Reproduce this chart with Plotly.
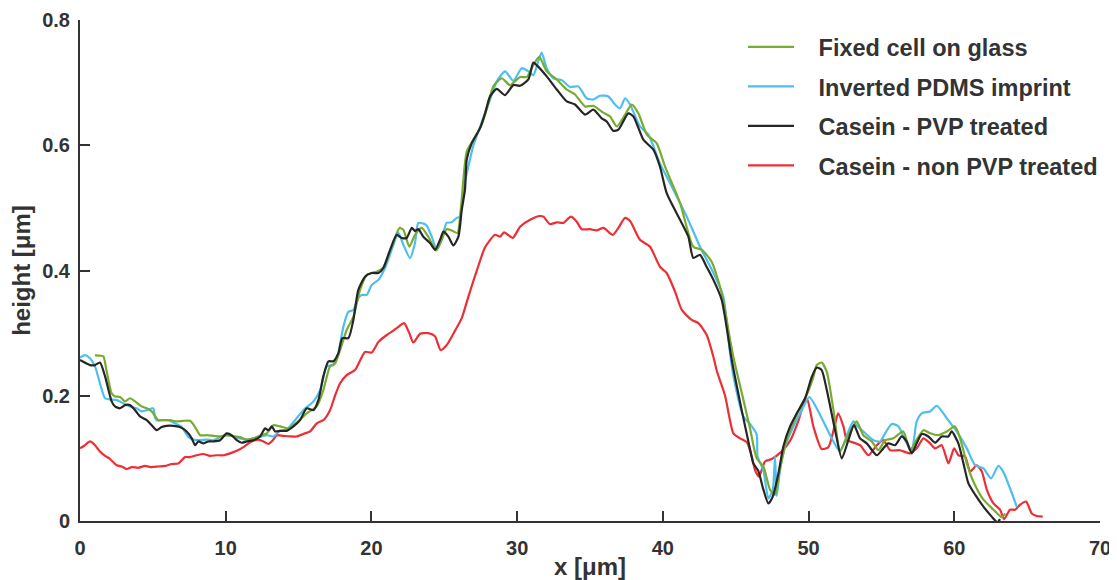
import plotly.graph_objects as go

# ---- data (x [um], height [um]) ----
fixed_cell_glass = [
    (1.03,0.265),(1.37,0.264),(1.6,0.263),(1.83,0.239),(2.17,0.204),(2.4,0.199),(2.75,0.198),(3.09,0.191),
    (3.43,0.196),(3.78,0.191),(4.23,0.183),(4.58,0.180),(4.92,0.175),(5.38,0.161),(5.72,0.161),(6.18,0.161),
    (6.64,0.159),(7.09,0.160),(7.55,0.160),(7.9,0.150),(8.24,0.137),(8.7,0.137),(9.15,0.136),(9.61,0.135),
    (10.07,0.137),(10.53,0.135),(10.98,0.134),(11.44,0.130),(11.9,0.132),(12.47,0.137),(12.81,0.140),
    (13.27,0.153),(13.73,0.151),(14.3,0.148),(14.87,0.157),(15.56,0.172),(16.25,0.183),(16.7,0.209),
    (17.16,0.247),(17.51,0.252),(17.85,0.273),(18.3,0.305),(18.76,0.326),(19.22,0.369),(19.68,0.393),
    (20.36,0.398),(20.82,0.405),(21.39,0.438),(21.92,0.468),(22.19,0.465),(22.6,0.438),(22.99,0.457),
    (23.45,0.468),(23.9,0.454),(24.43,0.432),(24.82,0.449),(25.16,0.466),(25.51,0.464),(25.9,0.46),
    (26.13,0.497),(26.54,0.590),(27.0,0.609),(27.57,0.633),(28.03,0.667),(28.37,0.694),(28.94,0.707),
    (29.51,0.696),(30.2,0.709),(30.66,0.709),(31.11,0.728),(31.52,0.741),(32.03,0.718),(32.72,0.705),
    (33.4,0.689),(33.97,0.681),(34.66,0.662),(35.23,0.663),(35.92,0.652),(36.38,0.646),(36.84,0.630),
    (37.41,0.649),(37.86,0.665),(38.32,0.651),(38.9,0.617),(39.58,0.603),(40.15,0.566),(41.18,0.508),
    (42.09,0.438),(42.67,0.433),(43.35,0.414),(44.04,0.364),(44.61,0.29),(44.84,0.262),(45.41,0.205),
    (45.98,0.148),(46.44,0.100),(46.9,0.087),(47.36,0.050),(47.7,0.042),(48.04,0.084),(48.5,0.13),
    (49.19,0.170),(49.87,0.201),(50.33,0.230),(50.56,0.249),(50.9,0.253),(51.25,0.238),(51.71,0.177),
    (52.16,0.113),(52.73,0.138),(53.3,0.159),(53.76,0.137),(54.34,0.127),(54.79,0.113),(55.25,0.129),
    (55.82,0.132),(56.5,0.143),(56.96,0.113),(57.42,0.130),(57.88,0.145),(58.34,0.140),(58.91,0.137),
    (59.49,0.143),(60.05,0.151),(60.4,0.132),(60.86,0.092),(61.31,0.063),(62.0,0.034),(62.69,0.018),
    (63.26,0.006),(63.49,0.012),
]

inverted_pdms = [
    (0,0.261),(0.34,0.265),(0.69,0.26),(1.03,0.247),(1.37,0.220),(1.72,0.196),(2.06,0.194),(2.52,0.193),
    (2.97,0.188),(3.43,0.183),(3.89,0.180),(4.23,0.175),(4.58,0.177),(5.03,0.180),(5.15,0.165),(5.26,0.161),
    (5.6,0.161),(6.06,0.161),(6.52,0.156),(6.98,0.150),(7.44,0.134),(7.78,0.130),(8.24,0.129),(8.7,0.130),
    (9.15,0.129),(9.61,0.134),(10.07,0.137),(10.53,0.135),(10.98,0.132),(11.44,0.130),(11.9,0.132),
    (12.47,0.135),(12.81,0.137),(13.27,0.135),(13.73,0.144),(14.19,0.146),(14.76,0.161),(15.33,0.177),
    (16.02,0.191),(16.48,0.209),(16.93,0.247),(17.39,0.249),(17.73,0.268),(18.07,0.310),(18.42,0.334),
    (18.76,0.337),(19.1,0.356),(19.33,0.361),(19.68,0.361),(20.02,0.377),(20.48,0.385),(20.93,0.404),
    (21.39,0.433),(21.85,0.46),(22.19,0.441),(22.65,0.420),(22.99,0.444),(23.22,0.476),(23.75,0.473),
    (24.14,0.454),(24.48,0.433),(24.82,0.449),(25.16,0.476),(25.51,0.477),(25.85,0.484),(26.08,0.486),
    (26.31,0.529),(26.65,0.566),(27.0,0.600),(27.57,0.637),(28.14,0.673),(28.6,0.702),(29.17,0.718),
    (29.74,0.703),(30.31,0.723),(30.77,0.718),(31.11,0.712),(31.45,0.734),(31.68,0.748),(32.03,0.723),
    (32.49,0.707),(33.06,0.704),(33.63,0.693),(34.2,0.694),(34.77,0.675),(35.23,0.673),(35.69,0.679),
    (36.26,0.678),(36.72,0.665),(37.06,0.659),(37.41,0.675),(37.75,0.665),(38.43,0.630),(39.01,0.617),
    (39.8,0.571),(40.72,0.529),(41.64,0.486),(42.55,0.438),(43.47,0.396),(44.15,0.358),(44.61,0.268),
    (44.84,0.232),(45.53,0.167),(45.98,0.155),(46.44,0.138),(46.5,0.103),(46.9,0.081),(47.24,0.036),
    (47.54,0.050),(47.7,0.103),(47.81,0.040),(48.04,0.081),(48.39,0.119),(48.96,0.151),(49.53,0.177),
    (50.05,0.198),(50.56,0.180),(51.48,0.137),(52.16,0.111),(52.73,0.143),(53.08,0.159),(53.3,0.153),
    (53.76,0.143),(54.45,0.129),(54.91,0.127),(55.25,0.140),(55.71,0.155),(56.17,0.151),(56.62,0.129),
    (57.08,0.113),(57.42,0.159),(57.77,0.172),(58.34,0.175),(58.8,0.184),(59.49,0.164),(60.17,0.143),
    (60.86,0.116),(61.43,0.089),(62.0,0.084),(62.52,0.068),(63.03,0.088),(63.37,0.078),(64.29,0.023),
]

casein_pvp = [
    (0,0.257),(0.69,0.249),(1.03,0.249),(1.37,0.253),(1.72,0.231),(2.17,0.191),(2.4,0.183),(2.75,0.18),
    (3.09,0.185),(3.43,0.185),(3.78,0.177),(4.12,0.167),(4.58,0.161),(4.92,0.153),(5.26,0.145),(5.6,0.150),
    (5.95,0.152),(6.4,0.152),(6.86,0.150),(7.32,0.143),(7.67,0.132),(7.9,0.121),(8.12,0.127),(8.47,0.124),
    (8.81,0.127),(9.15,0.127),(9.61,0.129),(10.07,0.140),(10.41,0.137),(10.76,0.129),(11.1,0.125),
    (11.44,0.127),(11.9,0.129),(12.36,0.135),(12.7,0.148),(12.93,0.145),(13.16,0.151),(13.39,0.143),
    (13.73,0.144),(14.19,0.144),(14.65,0.151),(15.1,0.161),(15.56,0.180),(16.02,0.177),(16.36,0.193),
    (16.7,0.231),(17.05,0.255),(17.39,0.255),(17.73,0.268),(18.0,0.292),(18.42,0.292),(18.76,0.321),
    (19.1,0.369),(19.56,0.390),(20.02,0.396),(20.48,0.396),(20.82,0.404),(21.28,0.433),(21.74,0.457),
    (22.08,0.452),(22.42,0.452),(22.77,0.468),(23.0,0.463),(23.22,0.466),(23.56,0.454),(24.02,0.444),
    (24.37,0.433),(24.71,0.449),(24.94,0.462),(25.28,0.454),(25.62,0.440),(25.97,0.454),(26.2,0.497),
    (26.42,0.529),(26.54,0.577),(26.88,0.603),(27.45,0.627),(27.8,0.651),(28.14,0.678),(28.6,0.690),
    (29.17,0.680),(29.74,0.696),(30.2,0.695),(30.77,0.705),(31.11,0.732),(31.34,0.728),(32.03,0.710),
    (32.72,0.689),(33.4,0.670),(33.97,0.665),(34.66,0.649),(35.23,0.657),(35.8,0.643),(36.15,0.638),
    (36.6,0.623),(36.95,0.625),(37.63,0.651),(37.98,0.646),(38.66,0.609),(39.35,0.593),(39.8,0.566),
    (40.27,0.523),(41.18,0.481),(41.75,0.454),(42.09,0.420),(42.55,0.425),(43.0,0.406),(43.47,0.385),
    (44.04,0.353),(44.73,0.257),(45.41,0.177),(45.98,0.115),(46.21,0.092),(46.55,0.080),(46.9,0.050),
    (47.24,0.028),(47.54,0.039),(47.93,0.076),(48.27,0.119),(48.73,0.151),(49.19,0.172),(49.76,0.196),
    (50.22,0.230),(50.56,0.245),(50.9,0.241),(51.25,0.209),(51.82,0.145),(52.28,0.100),(52.73,0.129),
    (53.12,0.153),(53.53,0.132),(53.99,0.124),(54.68,0.105),(55.13,0.116),(55.48,0.124),(55.94,0.121),
    (56.39,0.135),(56.73,0.127),(57.08,0.108),(57.42,0.124),(57.77,0.139),(58.22,0.135),(58.68,0.125),
    (59.14,0.135),(59.6,0.135),(59.82,0.143),(60.28,0.124),(60.63,0.092),(60.97,0.060),(61.43,0.042),
    (62.0,0.023),(62.57,0.007),(62.96,-0.002),(63.14,0.003),
]

casein_non_pvp = [
    (0,0.116),(0.34,0.121),(0.69,0.127),(1.03,0.121),(1.37,0.111),(1.72,0.104),(2.06,0.099),(2.52,0.089),
    (2.86,0.087),(3.2,0.083),(3.55,0.086),(4.0,0.085),(4.46,0.088),(4.92,0.086),(5.38,0.087),(5.84,0.088),
    (6.29,0.091),(6.75,0.092),(7.21,0.102),(7.55,0.102),(8.0,0.105),(8.47,0.107),(8.92,0.104),(9.38,0.105),
    (9.84,0.105),(10.3,0.108),(10.76,0.112),(11.21,0.118),(11.56,0.124),(11.9,0.128),(12.24,0.130),
    (12.59,0.127),(12.93,0.123),(13.27,0.130),(13.5,0.137),(13.96,0.136),(14.42,0.135),(14.87,0.135),
    (15.33,0.139),(15.79,0.143),(16.25,0.156),(16.7,0.161),(17.16,0.177),(17.5,0.200),(17.85,0.220),
    (18.3,0.233),(18.87,0.241),(19.56,0.270),(20.02,0.269),(20.48,0.286),(21.05,0.297),(21.74,0.308),
    (22.24,0.316),(22.6,0.300),(22.88,0.285),(23.34,0.299),(23.9,0.300),(24.36,0.295),(24.75,0.273),
    (25.17,0.281),(25.74,0.304),(26.2,0.324),(26.65,0.358),(27.22,0.399),(27.8,0.437),(28.48,0.457),
    (28.83,0.454),(29.1,0.461),(29.7,0.452),(30.2,0.470),(30.89,0.481),(31.57,0.487),(31.8,0.486),
    (32.26,0.474),(32.72,0.477),(33.17,0.476),(33.68,0.486),(34.09,0.478),(34.43,0.466),(35.0,0.466),
    (35.46,0.464),(35.92,0.468),(36.56,0.457),(36.95,0.468),(37.41,0.484),(37.75,0.479),(38.43,0.449),
    (39.12,0.438),(39.8,0.406),(40.26,0.396),(40.84,0.366),(41.3,0.337),(41.98,0.321),(42.44,0.316),
    (43.01,0.297),(43.47,0.262),(43.7,0.240),(44.27,0.200),(44.84,0.140),(45.3,0.132),(45.76,0.126),
    (46.1,0.103),(46.33,0.081),(46.6,0.071),(47.01,0.095),(47.47,0.099),(48.1,0.110),(48.73,0.128),
    (49.3,0.160),(49.76,0.193),(49.92,0.193),(50.33,0.151),(50.9,0.115),(51.36,0.118),(51.82,0.155),
    (52.03,0.172),(52.39,0.151),(52.62,0.129),(52.85,0.127),(53.53,0.121),(54.11,0.105),(54.68,0.121),
    (55.13,0.129),(55.6,0.113),(56.28,0.113),(56.96,0.108),(57.42,0.116),(57.88,0.132),(58.34,0.124),
    (58.68,0.116),(59.14,0.121),(59.6,0.092),(59.99,0.116),(60.28,0.105),(60.74,0.103),(61.09,0.079),
    (61.54,0.089),(61.89,0.079),(62.23,0.050),(62.69,0.028),(63.14,0.018),(63.42,0.003),(63.83,0.018),
    (64.17,0.018),(64.52,0.026),(64.93,0.031),(65.32,0.012),(65.66,0.008),(66.07,0.007),
]

series_names = ["Fixed cell on glass", "Inverted PDMS imprint",
                "Casein - PVP treated", "Casein - non PVP treated"]
series_data = [fixed_cell_glass, inverted_pdms, casein_pvp, casein_non_pvp]
series_colors = ["#77AC30", "#4DBEEE", "#262626", "#EC2F35"]

x_ticks = [0, 10, 20, 30, 40, 50, 60, 70]
y_ticks = [0, 0.2, 0.4, 0.6, 0.8]
y_tick_labels = ["0", "0.2", "0.4", "0.6", "0.8"]

AX = "#333333"
FONT = "Liberation Sans, Arial, Helvetica, sans-serif"
PAD = "\u00a0\u00a0\u00a0"  # gap between legend line and label

fig = go.Figure()
# draw order: red behind, then blue, green, black on top
for idx in [3, 1, 0, 2]:
    pts = series_data[idx]
    fig.add_trace(go.Scatter(
        x=[p[0] for p in pts], y=[p[1] for p in pts],
        mode="lines", name=PAD + series_names[idx],
        line=dict(color=series_colors[idx], width=2.2, shape="spline", smoothing=0.6),
        legendrank=idx + 1, legendgroup=str(idx),
    ))

# page has an 8px body margin; figure sized/margined so the plot area lands at
# x 80..1100, y 20..521 of the 1117x580 window
fig.update_layout(
    width=1109, height=572,
    paper_bgcolor="white", plot_bgcolor="white",
    margin=dict(l=72, r=17, t=12, b=59, autoexpand=False),
    font=dict(family=FONT, size=20, color=AX, weight="bold"),
    showlegend=True,
    legend=dict(
        x=0.65, y=0.99, xanchor="left", yanchor="top",
        bgcolor="rgba(0,0,0,0)", borderwidth=0,
        font=dict(family=FONT, size=23.5, color=AX, weight="bold"),
        tracegroupgap=6, itemwidth=46,
    ),
    xaxis=dict(
        range=[0, 70], tickvals=x_ticks, ticktext=[str(v) for v in x_ticks],
        showgrid=False, zeroline=False, showline=True, linecolor=AX, linewidth=2,
        ticks="inside", ticklen=10, tickwidth=2, tickcolor=AX,
        ticklabelstandoff=8, automargin=False,
        tickfont=dict(family=FONT, size=20, color=AX, weight="bold"),
        title=dict(text="x [μm]", standoff=4,
                   font=dict(family=FONT, size=24, color=AX, weight="bold")),
    ),
    yaxis=dict(
        range=[0, 0.8], tickvals=y_ticks, ticktext=y_tick_labels,
        showgrid=False, zeroline=False, showline=True, linecolor=AX, linewidth=2,
        ticks="inside", ticklen=10, tickwidth=2, tickcolor=AX,
        ticklabelstandoff=4, automargin=False,
        tickfont=dict(family=FONT, size=20, color=AX, weight="bold"),
        title=dict(text="height [μm]", standoff=5,
                   font=dict(family=FONT, size=24, color=AX, weight="bold")),
    ),
)

fig.write_html("out.html")
